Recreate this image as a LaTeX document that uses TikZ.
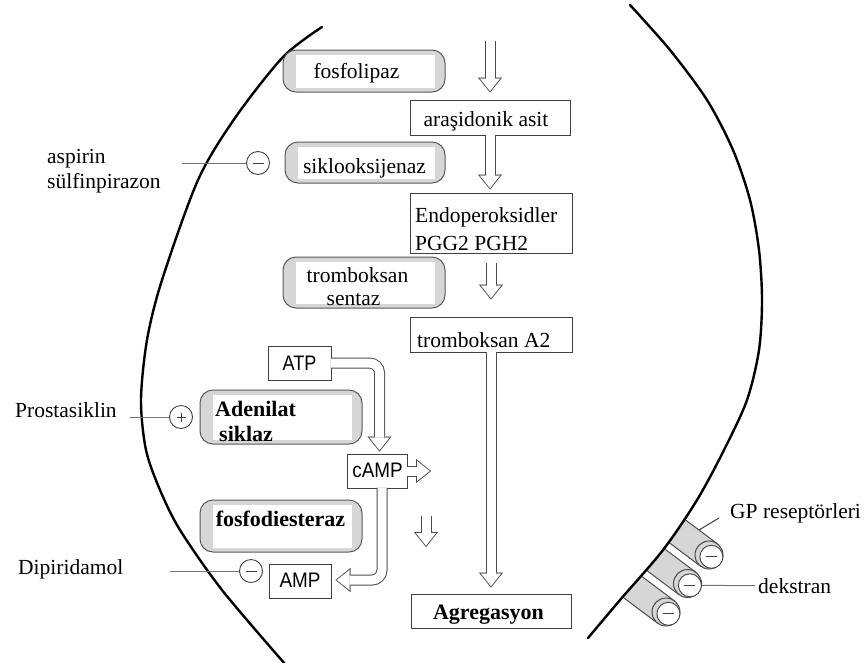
\documentclass[tikz,border=0pt]{standalone}
\usepackage{graphicx}
\usepackage{fontspec}
\setmainfont{Liberation Serif}
\newfontfamily\sansf{Liberation Sans}
\usetikzlibrary{arrows.meta,calc}
\definecolor{pg}{gray}{0.84}
\begin{document}
\begin{tikzpicture}[x=1pt,y=-1pt,
  txt/.style={inner sep=0pt, anchor=base, font=\fontsize{21.5}{25}\selectfont},
  txtw/.style={txt, anchor=base west},
  btxt/.style={txt, font=\fontsize{22}{25}\selectfont\bfseries},
  btxtw/.style={btxt, anchor=base west},
  stxt/.style={inner sep=0pt, anchor=base, font=\fontsize{21}{25}\sansf},
  box/.style={draw=black!75, line width=1pt, fill=white, inner sep=0pt},
  pill/.style={draw=black!65, line width=1pt, fill=pg, rounded corners=13pt, inner sep=0pt,
    path picture={\fill[white, sharp corners] ([xshift=13pt,yshift=-4.5pt]path picture bounding box.north west) rectangle ([xshift=-10pt,yshift=4pt]path picture bounding box.south east);}},
  inh/.style={circle, draw=black!75, line width=0.9pt, fill=white, minimum size=23pt, inner sep=0pt},
  minus/.style={inh, path picture={\draw[black!75, line width=0.9pt] ([xshift=-5.5pt]path picture bounding box.center) -- ([xshift=5.5pt]path picture bounding box.center);}},
  plus/.style={inh, path picture={\draw[black!75, line width=0.9pt] ([xshift=-4.5pt]path picture bounding box.center) -- ([xshift=4.5pt]path picture bounding box.center) ([yshift=-4.5pt]path picture bounding box.center) -- ([yshift=4.5pt]path picture bounding box.center);}},
  iline/.style={draw=black!55, line width=1pt},
  hollow/.style 2 args={draw=black!70, line width=11pt, shorten <=#1, shorten >=#2,
    -{Triangle[length=15pt,width=24pt,line width=0.1pt]},
    postaction={draw=white, line width=9pt, shorten <=#1, shorten >=#2+1.4pt,
      -{Triangle[length=12.6pt,width=20pt,line width=0.1pt]}}},
  membrane/.style={line width=2.4pt, line cap=round},
  cyl/.style={fill=pg, draw=black!70, line width=1pt}
]
\useasboundingbox (0,0) rectangle (866,662);

% receptors (clipped to outside of right membrane)
\begin{scope}
  \clip plot[smooth] coordinates {(630,5) (670,50) (707,100) (733,150) (750,200) (759,250) (762,300) (759,350) (747,400) (724,450) (697,500) (663,550) (620,600) (588,638)} -- (560,700) -- (900,700) -- (900,-20) -- cycle;
  \foreach \cx/\cy in {709/555, 687.5/583.5, 666/612} {
    \draw[cyl] (\cx-8.4,\cy+11.2) -- (\cx+8.4,\cy-11.2) -- (\cx+8.4-40,\cy-11.2-30) -- (\cx-8.4-40,\cy+11.2-30) -- cycle;
  }
\end{scope}
\foreach \cx/\cy in {709/555, 687.5/583.5, 666/612} {
  \draw[cyl] (\cx,\cy) circle (14);
}
\node[minus] (rc1) at (711.4,556.8) {};
\node[minus] (rc2) at (689.9,585.3) {};
\node[minus] (rc3) at (668.4,613.8) {};

% membranes
\draw[membrane] plot[smooth] coordinates {(322,27) (283,57) (235,118) (198,180) (162,280) (147,340) (141,400) (146,450) (160,490) (180,530) (222,590) (285,664)};
\draw[membrane] plot[smooth] coordinates {(630,5) (670,50) (707,100) (733,150) (750,200) (759,250) (762,300) (759,350) (747,400) (724,450) (697,500) (663,550) (620,600) (588,638)};

% enzyme pills
\node[pill, minimum width=162pt, minimum height=42pt] (fosf) at (364,71) {};
\node[pill, minimum width=160pt, minimum height=41pt] (siklo) at (365,162.5) {};
\node[pill, minimum width=162pt, minimum height=51pt] (tsen) at (364,282.5) {};
\node[pill, minimum width=162pt, minimum height=54pt] (adc) at (281,417) {};
\node[pill, minimum width=162pt, minimum height=52pt] (pde) at (281,526) {};

% boxes
\node[box, minimum width=160pt, minimum height=35pt] (aras) at (490,117.5) {};
\node[box, minimum width=162pt, minimum height=60pt] (endo) at (491,223) {};
\node[box, minimum width=162pt, minimum height=35pt] (ta2) at (491,334.5) {};
\node[box, minimum width=160pt, minimum height=34pt] (agr) at (491,611) {};
\node[box, minimum width=63pt, minimum height=34pt] (atp) at (299.5,363) {};
\node[box, minimum width=60pt, minimum height=34pt] (camp) at (377,471) {};
\node[box, minimum width=62pt, minimum height=34pt] (amp) at (300,581) {};

% coordinates for free ends
\coordinate (topin) at (490,41);
\coordinate (atpbend) at (379.5,363);
\coordinate (campbend) at (382,580);
\coordinate (campout) at (431,471);
\coordinate (sa1) at (426,516);
\coordinate (sa2) at (426,547);

% hollow arrows
\draw[hollow={0pt}{7pt}] (topin) -- (topin |- aras.north);
\draw[hollow={-0.6pt}{3pt}] (aras.south) -- (aras.south |- endo.north);
\draw[hollow={9pt}{17pt}] (endo.south) -- (endo.south |- ta2.north);
\draw[hollow={-0.6pt}{6pt}] (ta2.south) -- (ta2.south |- agr.north);
\draw[hollow={-0.6pt}{2pt}, rounded corners=10pt] (atp.east) -- (atpbend) -- (atpbend |- camp.north);
\draw[hollow={-0.6pt}{4pt}, rounded corners=10pt] (campbend |- camp.south) -- (campbend) -- (campbend -| amp.east);
\draw[hollow={-0.6pt}{0pt}] (camp.east) -- (campout);
\draw[hollow={0pt}{0pt}] (sa1) -- (sa2);

% inhibitor / activator symbols
\node[minus] (aspc) at (258,163) {};
\node[plus] (prosc) at (181,417) {};
\node[minus] (dipc) at (251,571) {};
\coordinate (aspl) at (182,163);
\coordinate (prosl) at (130,417);
\coordinate (dipl) at (170,571);
\draw[iline] (aspl) -- (aspc);
\draw[iline] (prosl) -- (prosc);
\draw[iline] (dipl) -- (dipc);
\coordinate (gpa) at (699,530);
\coordinate (gpb) at (719,518);
\draw[iline, draw=black!75] (gpa) -- (gpb);

% texts
\node[txt] (tfosf) at (356.5,78) {fosfolipaz};
\node[txt] (taras) at (486,126) {araşidonik asit};
\node[txt] (tsiklo) at (364.5,173) {siklooksijenaz};
\node[txtw] (tendo1) at (415,222) {Endoperoksidler};
\node[txtw] (tendo2) at (415,250) {PGG2 PGH2};
\node[txt] (ttsen1) at (357.5,282) {tromboksan};
\node[txt] (ttsen2) at (353.5,305) {sentaz};
\node[txtw] (tta2) at (417,347) {tromboksan A2};
\node[btxtw] (tadc1) at (215,416) {Adenilat};
\node[btxtw] (tadc2) at (219,441) {siklaz};
\node[btxt] (tpde) at (280.5,526) {fosfodiesteraz};
\node[btxt] (tagr) at (488.5,619) {Agregasyon};
\node[stxt] (tatp) at (299.5,370) {\scalebox{0.86}[1]{ATP}};
\node[stxt] (tcamp) at (377.5,477) {\scalebox{0.9}[1]{cAMP}};
\node[stxt] (tamp) at (300,587) {\scalebox{0.9}[1]{AMP}};
\node[txtw] (tasp1) at (47,163) {aspirin};
\node[txtw] (tasp2) at (47,188) {sülfinpirazon};
\node[txtw] (tpros) at (15,417) {Prostasiklin};
\node[txtw] (tdip) at (18,574) {Dipiridamol};
\node[txtw] (tgp) at (730,518) {GP reseptörleri};
\node[txtw] (tdek) at (758,593) {dekstran};
\draw[iline] (rc2) -- ([xshift=-3pt]tdek.west);
\end{tikzpicture}
\end{document}
